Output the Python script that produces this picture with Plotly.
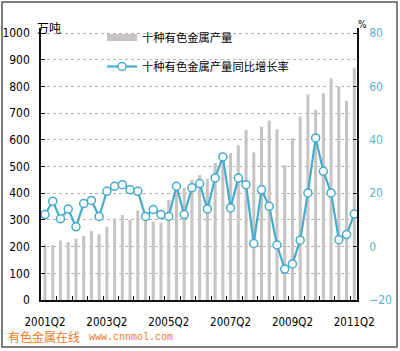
import plotly.graph_objects as go

# ---- data ----
quarters = ["2001Q2","2001Q3","2001Q4","2002Q1","2002Q2","2002Q3","2002Q4","2003Q1",
            "2003Q2","2003Q3","2003Q4","2004Q1","2004Q2","2004Q3","2004Q4","2005Q1",
            "2005Q2","2005Q3","2005Q4","2006Q1","2006Q2","2006Q3","2006Q4","2007Q1",
            "2007Q2","2007Q3","2007Q4","2008Q1","2008Q2","2008Q3","2008Q4","2009Q1",
            "2009Q2","2009Q3","2009Q4","2010Q1","2010Q2","2010Q3","2010Q4","2011Q1",
            "2011Q2"]
output_wt = [208, 205, 222, 216, 230, 240, 258, 246, 275, 305, 318, 300, 335, 320,
             293, 290, 375, 412, 420, 450, 468, 455, 513, 537, 550, 580, 637, 553,
             649, 672, 639, 506, 606, 687, 770, 712, 774, 830, 799, 746, 870]
growth_pct = [12.0, 17.0, 10.4, 14.1, 7.4, 16.1, 17.3, 11.3, 20.7, 22.6, 23.2, 21.3,
              20.7, 11.3, 13.9, 12.0, 11.3, 22.6, 12.0, 22.0, 23.6, 14.1, 25.7, 33.6,
              14.5, 25.7, 23.2, 1.2, 21.3, 15.1, 0.6, -8.4, -6.5, 2.4, 20.1, 40.7,
              28.2, 20.1, 2.6, 4.5, 12.2]
label_every = 8
name_bar = "十种有色金属产量"
name_line = "十种有色金属产量同比增长率"

W, H = 400, 351
L, R, T, B = 41, 357, 28, 300   # plot area in pixels

def px(x):
    return (x - L) / (R - L)

def py(y):
    return (B - y) / (B - T)

idx = list(range(len(quarters)))
bar_col = "#c9c4c4"
line_col = "#45acd0"
narrow = "Liberation Sans Narrow, DejaVu Sans Condensed, Arial Narrow, sans-serif"
cjk = "Noto Sans CJK SC, sans-serif"

fig = go.Figure()
fig.add_trace(go.Bar(x=idx, y=output_wt, name=name_bar, marker_color=bar_col,
                     marker_line_width=0, showlegend=False, yaxis="y"))
# legend key for the bars (wide flat swatch as in the original)
fig.add_trace(go.Scatter(x=[None], y=[None], name=name_bar, mode="lines",
                         line=dict(color=bar_col, width=7), legendgroup="a",
                         hoverinfo="skip"))
fig.add_trace(go.Scatter(x=idx, y=growth_pct, name=name_line, mode="lines+markers",
                         line=dict(color=line_col, width=2.2),
                         marker=dict(symbol="circle", size=8, color="white",
                                     line=dict(color=line_col, width=1.5)),
                         legendgroup="b", yaxis="y2"))

top_l = 1000 * (B - T) / (B - 33)
top_r = -20 + 100 * (B - T) / (B - 33)

n = len(quarters)
fig.update_layout(
    width=W, height=H,
    margin=dict(l=L, r=W - R, t=T, b=H - B, pad=0, autoexpand=False),
    paper_bgcolor="white", plot_bgcolor="white",
    bargap=0.6,
    showlegend=True,
    legend=dict(x=px(102), y=py(23), xanchor="left", yanchor="top",
                bgcolor="rgba(0,0,0,0)", font=dict(family=cjk, size=11.3, color="black"),
                traceorder="grouped", tracegroupgap=10, itemwidth=30),
    xaxis=dict(range=[-0.52, n - 1 + 0.35], showgrid=False, zeroline=False,
               automargin=False,
               tickmode="array", tickvals=idx[::label_every],
               ticktext=[quarters[i] for i in idx[::label_every]],
               ticks="", ticklabelstandoff=10,
               tickfont=dict(family=narrow, size=11.5, color="black"),
               showline=True, linecolor="#111", linewidth=1.5,
               minor=dict(tickmode="array", tickvals=[i + 1.5 for i in range(0, n - 1, 2)],
                          ticks="inside", ticklen=4, tickcolor="#111", tickwidth=1)),
    yaxis=dict(range=[0, top_l], tickmode="array", tickvals=list(range(0, 1001, 100)),
               automargin=False,
               ticks="inside", ticklen=4, tickcolor="#111", ticklabelstandoff=7,
               tickfont=dict(family=narrow, size=12, color="black"),
               showgrid=True, gridcolor="#b5b5b5", griddash="dot", gridwidth=1,
               zeroline=False, showline=True, linecolor="#111", linewidth=1.5),
    yaxis2=dict(range=[-20, top_r], overlaying="y", side="right", tickmode="array",
                automargin=False,
                tickvals=list(range(-20, 81, 20)), ticks="inside", ticklen=4,
                tickcolor="#111", ticklabelstandoff=8,
                tickfont=dict(family=narrow, size=12, color="#5ab4d4"),
                showgrid=False, zeroline=False, showline=True, linecolor="#111",
                linewidth=1.5),
    shapes=[
        dict(type="rect", xref="paper", yref="paper", x0=px(88), x1=px(319),
             y0=py(78), y1=py(24), fillcolor="white", line_width=0, layer="between"),
        dict(type="rect", xref="paper", yref="paper", x0=px(2), x1=px(397),
             y0=py(347), y1=py(2), line=dict(color="#555", width=1.5),
             fillcolor="rgba(0,0,0,0)", layer="above"),
    ],
    annotations=[
        dict(text="万吨", xref="paper", yref="paper", x=px(49), y=py(27),
             showarrow=False, font=dict(family=cjk, size=12, color="black"),
             xanchor="center", yanchor="middle"),
        dict(text="%", xref="paper", yref="paper", x=px(362), y=py(24),
             showarrow=False, font=dict(family=narrow, size=10, color="black"),
             xanchor="center", yanchor="middle"),
        dict(text="有色金属在线", xref="paper", yref="paper", x=px(6),
             y=py(336), showarrow=False, font=dict(family=cjk, size=12, color="#ef7a1f"),
             xanchor="left", yanchor="middle"),
        dict(text="www.cnnmol.com", xref="paper", yref="paper", x=px(87),
             y=py(337), showarrow=False,
             font=dict(family="Liberation Mono, DejaVu Sans Mono, monospace",
                       size=10, color="#ef7a1f"),
             xanchor="left", yanchor="middle"),
    ],
)

fig.write_html("out.html")
